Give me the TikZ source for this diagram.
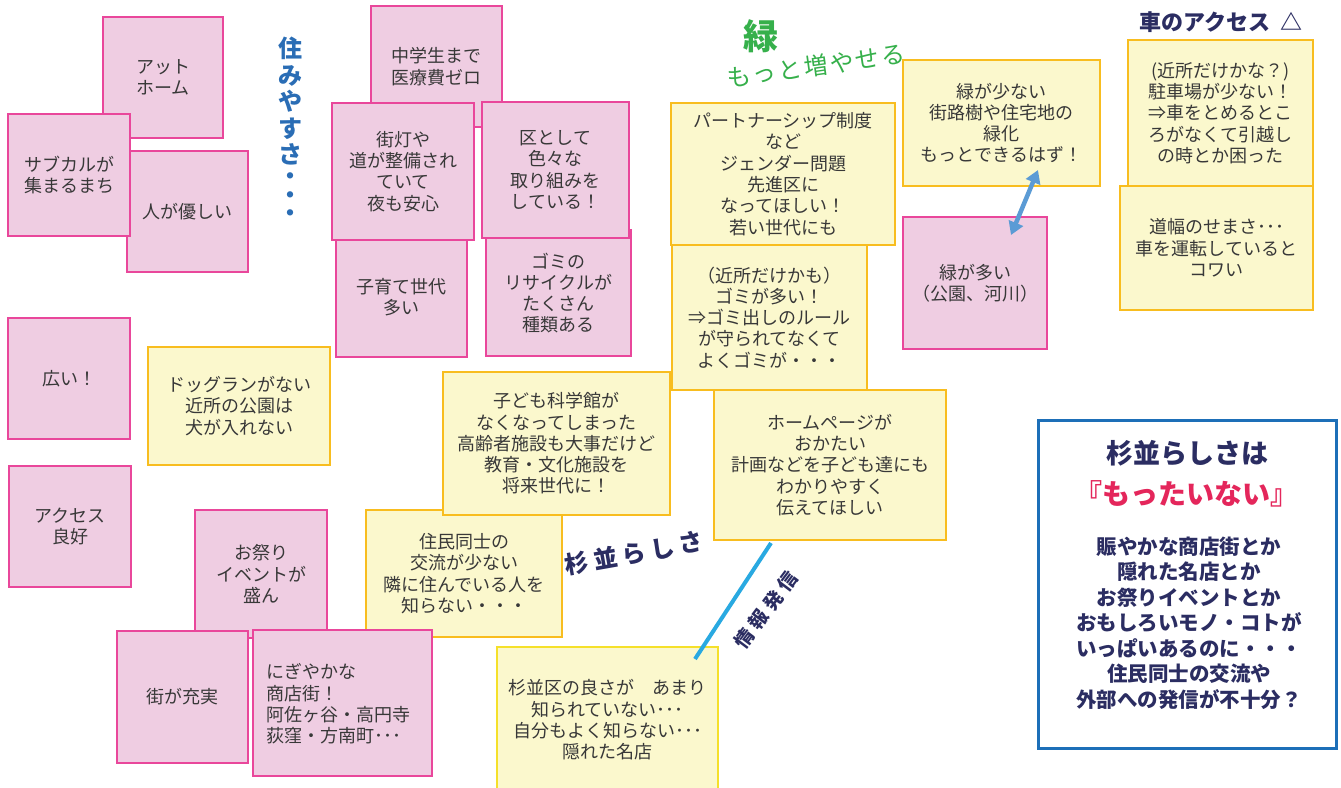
\documentclass[tikz,border=0pt]{standalone}
\usepackage{fontspec}
\newfontfamily\jp{Noto Sans CJK JP}
\usetikzlibrary{arrows.meta}
\definecolor{pinkfill}{HTML}{EFCDE2}
\definecolor{pinkline}{HTML}{E9479B}
\definecolor{yelfill}{HTML}{FBF8CD}
\definecolor{yelline}{HTML}{F8BD1F}
\definecolor{yelline2}{HTML}{F5E02A}
\definecolor{txt}{HTML}{383838}
\definecolor{navy}{HTML}{2B2D62}
\definecolor{bluetitle}{HTML}{2A6DB5}
\definecolor{greentxt}{HTML}{36B04B}
\definecolor{redtxt}{HTML}{E4265B}
\definecolor{frameblue}{HTML}{1D6FB8}
\definecolor{lineblue}{HTML}{29A9E1}
\definecolor{arrowblue}{HTML}{5B9BD5}
\begin{document}
\begin{tikzpicture}[x=1pt,y=-1pt,
  note/.style={draw, line width=2pt, inner sep=0pt, align=center, text=txt,
    font=\jp\fontsize{18}{21.3}\selectfont},
  pinkbox/.style={note, draw=pinkline, fill=pinkfill},
  yelbox/.style={note, draw=yelline, fill=yelfill},
  sz/.style 2 args={minimum width=#1pt, minimum height=#2pt},
  bodytxt/.style={inner sep=0pt, align=center, text=txt, font=\jp\fontsize{18}{21.3}\selectfont},
  heading/.style={inner sep=0pt, align=center}
]
\useasboundingbox (0,0) rectangle (1341,787);
\fill[white] (0,0) rectangle (1341,787);

% pink notes (drawing order matters)
\node[pinkbox, sz={120}{121}] (p1) at (163,77.5) {アット\\ホーム};
\node[pinkbox, sz={121}{121}] (p3) at (187.5,211.5) {人が優しい};
\node[pinkbox, sz={122}{122}] (p2) at (69,175) {サブカルが\\集まるまち};
\node[pinkbox, sz={131}{121}] (p4) at (436.5,66.5) {中学生まで\\医療費ゼロ};
\node[pinkbox, sz={131}{119}] (p7) at (401.5,297.5) {子育て世代\\多い};
\node[pinkbox, sz={145}{126}] (p8) at (558.5,293) {ゴミの\\リサイクルが\\たくさん\\種類ある};
\node[pinkbox, sz={142}{137}] (p5) at (403,171.5) {街灯や\\道が整備され\\ていて\\夜も安心};
\node[pinkbox, sz={147}{136}] (p6) at (555.5,170) {区として\\色々な\\取り組みを\\している！};
\node[pinkbox, sz={122}{121}] (p9) at (69,378.5) {広い！};
\node[pinkbox, sz={122}{121}] (p10) at (70,526.5) {アクセス\\良好};
\node[pinkbox, sz={132}{128}] (p11) at (261,574) {お祭り\\イベントが\\盛ん};
\node[pinkbox, sz={131}{132}] (p12) at (182.5,697) {街が充実};
\node[pinkbox, sz={144}{132}] (p14) at (975,283) {緑が多い\\（公園、河川）};

% yellow notes
\node[yelbox, sz={182}{118}] (y1) at (239,406) {ドッグランがない\\近所の公園は\\犬が入れない};
\node[yelbox, sz={224}{142}] (y2) at (783,174) {パートナーシップ制度\\など\\ジェンダー問題\\先進区に\\なってほしい！\\若い世代にも};
\node[yelbox, sz={195}{145}] (y3) at (769.5,317.5) {（近所だけかも）\\ゴミが多い！\\⇒ゴミ出しのルール\\が守られてなくて\\よくゴミが・・・};
\node[yelbox, sz={197}{126}] (y4) at (1001.5,123) {緑が少ない\\街路樹や住宅地の\\緑化\\もっとできるはず！};
\node[yelbox, sz={185}{146}] (y5) at (1220.5,113) {(近所だけかな？)\\駐車場が少ない！\\⇒車をとめるとこ\\ろがなくて引越し\\の時とか困った};
\node[yelbox, sz={193}{124}] (y6) at (1216.5,248) {道幅のせまさ･･･\\車を運転していると\\コワい};
\node[yelbox, sz={196}{127}] (y9) at (464,573.5) {住民同士の\\交流が少ない\\隣に住んでいる人を\\知らない・・・};
\node[yelbox, sz={227}{143}] (y7) at (556.5,443.5) {子ども科学館が\\なくなってしまった\\高齢者施設も大事だけど\\教育・文化施設を\\将来世代に！};
\node[yelbox, sz={232}{150}] (y8) at (830,465) {ホームページが\\おかたい\\計画などを子ども達にも\\わかりやすく\\伝えてほしい};
\node[yelbox, draw=yelline2, sz={221}{146}] (y10) at (607.5,720) {};
\node[bodytxt] (y10t) at (607.5,720) {杉並区の良さが　あまり\\知られていない･･･\\自分もよく知らない･･･\\隠れた名店};

% shopping street note, left aligned text
\node[pinkbox, sz={179}{146}] (p13) at (342.5,703) {};
\node[bodytxt, align=left, anchor=west] (p13t) at (266,704) {にぎやかな\\商店街！\\阿佐ヶ谷・高円寺\\荻窪・方南町･･･};

% summary frame
\node[draw=frameblue, line width=3pt, fill=white, minimum width=298pt, minimum height=328pt, inner sep=0pt] (sum) at (1187,584) {};
\node[heading, text=navy, font=\jp\bfseries\fontsize{27}{30}\selectfont] (sumt) at (1187,453) {杉並らしさは};
\node[heading, text=redtxt, font=\jp\bfseries\fontsize{28}{30}\selectfont] (sumr) at (1186,494) {『もったいない』};
\node[heading, text=navy, font=\jp\bfseries\fontsize{20.5}{25.5}\selectfont] (sumb) at (1189,623) {賑やかな商店街とか\\隠れた名店とか\\お祭りイベントとか\\おもしろいモノ・コトが\\いっぱいあるのに・・・\\住民同士の交流や\\外部への発信が不十分？};

% headings
\node[heading, text=bluetitle, font=\jp\bfseries\fontsize{24}{26.5}\selectfont] (sumiyasusa) at (290,101.5)
  {住\\み\\や\\す\\さ};
\node[heading, text=bluetitle, font=\jp\fontsize{7}{18.5}\selectfont] (dots) at (290,194.5)
  {●\\●\\●};
\node[heading, text=greentxt, font=\jp\bfseries\fontsize{35}{38}\selectfont] (midori) at (761,36) {緑};
\node[heading, text=greentxt, rotate=8, font=\jp\fontsize{24}{26}\selectfont] (motto) at (816,66) {も\kern2ptっ\kern2ptと\kern2pt増\kern2ptや\kern2ptせ\kern2ptる};
\node[heading, text=navy, font=\jp\bfseries\fontsize{22}{24}\selectfont] (kuruma) at (1221,22) {車のアクセス\kern10pt△};
\node[heading, text=navy, rotate=10, font=\jp\bfseries\fontsize{24}{27}\selectfont] (rashisa) at (634,553) {杉\kern5pt並\kern5ptら\kern5ptし\kern5ptさ};
\node[heading, text=navy, rotate=53, font=\jp\bfseries\fontsize{19}{21}\selectfont] (joho) at (766,610) {情\kern5pt報\kern5pt発\kern5pt信};

% connectors
\coordinate (l1) at (771,543);
\coordinate (l2) at (695,659);
\draw[lineblue, line width=4pt] (l1) -- (l2);
\coordinate (a1) at (1038,170);
\coordinate (a2) at (1011,235);
\draw[arrowblue, line width=4.5pt, {Triangle[width=15pt,length=13pt]}-{Triangle[width=15pt,length=13pt]}] (a1) -- (a2);
\end{tikzpicture}
\end{document}
